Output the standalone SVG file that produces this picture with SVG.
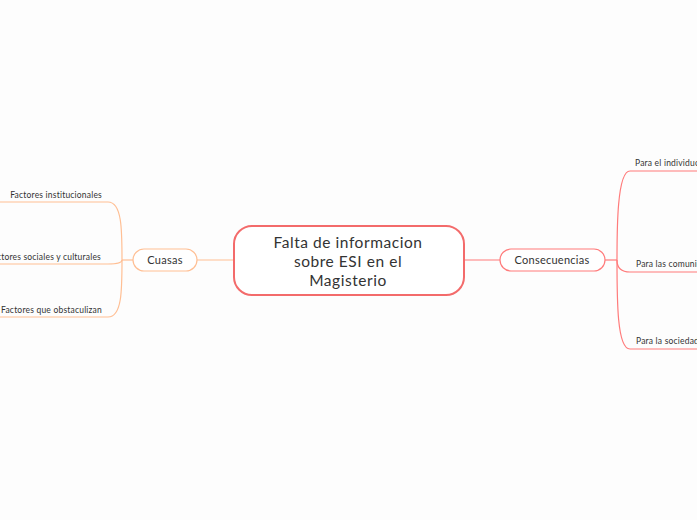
<svg xmlns="http://www.w3.org/2000/svg" width="697" height="520" viewBox="0 0 697 520">
<style>
text{font-family:Lato,"Open Sans",sans-serif;fill:#333;}
.c{text-anchor:middle;}
.big{font-size:15.5px;letter-spacing:0.55px;}
.sm{font-size:8.5px;letter-spacing:0.2px;}
.md{font-size:11px;letter-spacing:0.25px;}
.lo{stroke:#ffbf94;fill:none;stroke-width:1.2;}
.ro{stroke:#ff7b7b;fill:none;stroke-width:1.2;}
</style>
<rect width="697" height="520" fill="#fdfdfd"/>
<g id="connectors">
<path class="lo" d="M234,260 H197"/>
<path class="lo" d="M133,260 H122"/>
<path class="lo" d="M122,260 C122,230 122,202 108,202 H0"/>
<path class="lo" d="M122,260 C122,262 118,264 108,264 H0"/>
<path class="lo" d="M122,260 C122,290 122,317 108,317 H0"/>
<path class="ro" d="M464,260 H500"/>
<path class="ro" d="M605,260 H617"/>
<path class="ro" d="M617,260 C617,230 617,171 630,171 H697"/>
<path class="ro" d="M617,260 C617,266 620,272 630,272 H697"/>
<path class="ro" d="M617,260 C617,300 617,349 630,349 H697"/>
</g>
<g id="central">
<rect x="234" y="226" width="230" height="69" rx="18" fill="#fff" stroke="#f36b6b" stroke-width="2"/>
<text class="c big" x="348" y="248">Falta de informacion</text>
<text class="c big" x="348" y="267">sobre ESI en el</text>
<text class="c big" x="348" y="286">Magisterio</text>
</g>
<g id="cuasas">
<rect x="133" y="249" width="64" height="22" rx="11" fill="#fff" stroke="#ffbf94" stroke-width="1.2"/>
<text class="c md" x="165" y="264">Cuasas</text>
</g>
<g id="consecuencias">
<rect x="500" y="249" width="105" height="22" rx="11" fill="#fff" stroke="#ff7b7b" stroke-width="1.2"/>
<text class="c md" x="552" y="264">Consecuencias</text>
</g>
<g id="factores-institucionales"><text class="sm" x="102" y="198" text-anchor="end">Factores institucionales</text></g>
<g id="factores-sociales"><text class="sm" x="101" y="260" text-anchor="end">Factores sociales y culturales</text></g>
<g id="factores-obstaculizan"><text class="sm" x="102" y="313" text-anchor="end">Factores que obstaculizan</text></g>
<g id="para-individuo"><text class="sm" x="635" y="166">Para el individuo</text></g>
<g id="para-comunidades"><text class="sm" x="636" y="267">Para las comunidades</text></g>
<g id="para-sociedad"><text class="sm" x="636" y="344">Para la sociedad</text></g>
</svg>
